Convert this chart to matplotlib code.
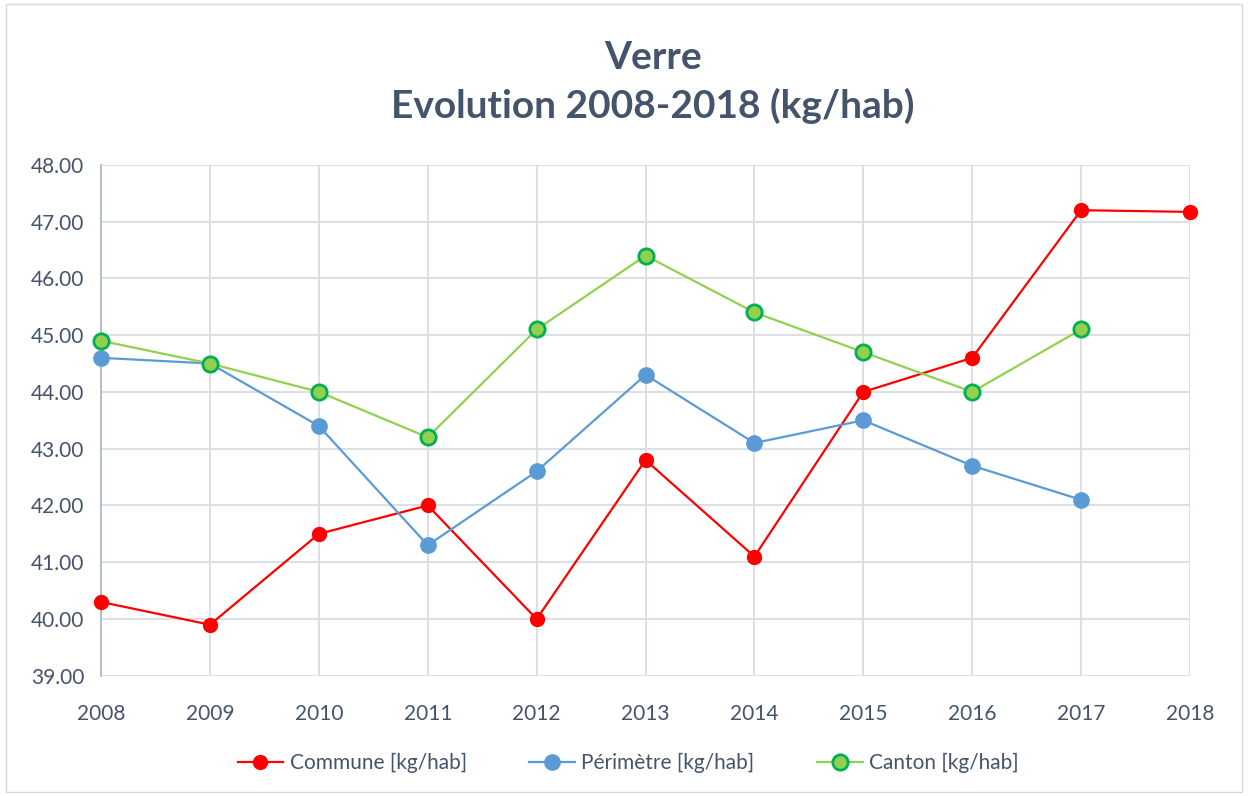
import numpy as np
from matplotlib import pyplot as plt
from matplotlib.patches import Rectangle

plt.rcParams['font.family'] = ['Lato', 'DejaVu Sans']

years = [2008, 2009, 2010, 2011, 2012, 2013, 2014, 2015, 2016, 2017, 2018]
commune = [40.3, 39.9, 41.5, 42.0, 40.0, 42.8, 41.1, 44.0, 44.6, 47.2, 47.17]
perimetre = [44.6, 44.5, 43.4, 41.3, 42.6, 44.3, 43.1, 43.5, 42.7, 42.1]
canton = [44.9, 44.5, 44.0, 43.2, 45.1, 46.4, 45.4, 44.7, 44.0, 45.1]

text_col = '#44546A'
grid_col = '#D9DCE3'

fig = plt.figure(figsize=(12.48, 7.96), dpi=100)
fig.patches.append(Rectangle((0.005, 0.005), 0.99, 0.99, transform=fig.transFigure,
                             fill=False, edgecolor='#D9D9D9', linewidth=1))
ax = fig.add_axes([0.081, 0.151, 0.8725, 0.642])

ax.plot(years, commune, color='#FF0000', linewidth=1.6, marker='o', markersize=10,
        markerfacecolor='#FF0000', markeredgecolor='#FF0000', label='Commune [kg/hab]',
        zorder=3, clip_on=False)
ax.plot(years[:len(perimetre)], perimetre, color='#5B9BD5', linewidth=1.6, marker='o', markersize=11,
        markerfacecolor='#5B9BD5', markeredgecolor='#5B9BD5', label='Périmètre [kg/hab]',
        zorder=3, clip_on=False)
ax.plot(years[:len(canton)], canton, color='#92D050', linewidth=1.6, marker='o', markersize=11,
        markerfacecolor='#92D050', markeredgecolor='#00B050', markeredgewidth=2,
        label='Canton [kg/hab]', zorder=3, clip_on=False)

ax.set_xlim(2008, 2018)
ax.set_ylim(39, 48)
ax.set_xticks(years)
ax.set_yticks(np.arange(39, 48.5, 1))
ax.set_yticklabels(['%.2f' % v for v in np.arange(39, 48.5, 1)])
ax.grid(True, color=grid_col, linewidth=1.3)
ax.set_axisbelow(True)
for s in ['top', 'right', 'bottom']:
    ax.spines[s].set_visible(False)
ax.spines['left'].set_color('#ADB9CA')
ax.spines['left'].set_linewidth(1.3)
ax.tick_params(axis='y', length=0, labelsize=15, colors=text_col, pad=12)
ax.tick_params(axis='x', length=0, labelsize=15, colors=text_col, pad=20)

fig.text(0.523, 0.897, 'Verre\nEvolution 2008-2018 (kg/hab)', ha='center', va='center',
         fontsize=28, fontweight='bold', color=text_col, linespacing=1.4)

ax.legend(loc='upper center', bbox_to_anchor=(0.484, -0.115), ncol=3, frameon=False,
          fontsize=15, labelcolor=text_col, handlelength=2.2, handletextpad=0.3,
          columnspacing=3.0)

plt.savefig('out.png')
